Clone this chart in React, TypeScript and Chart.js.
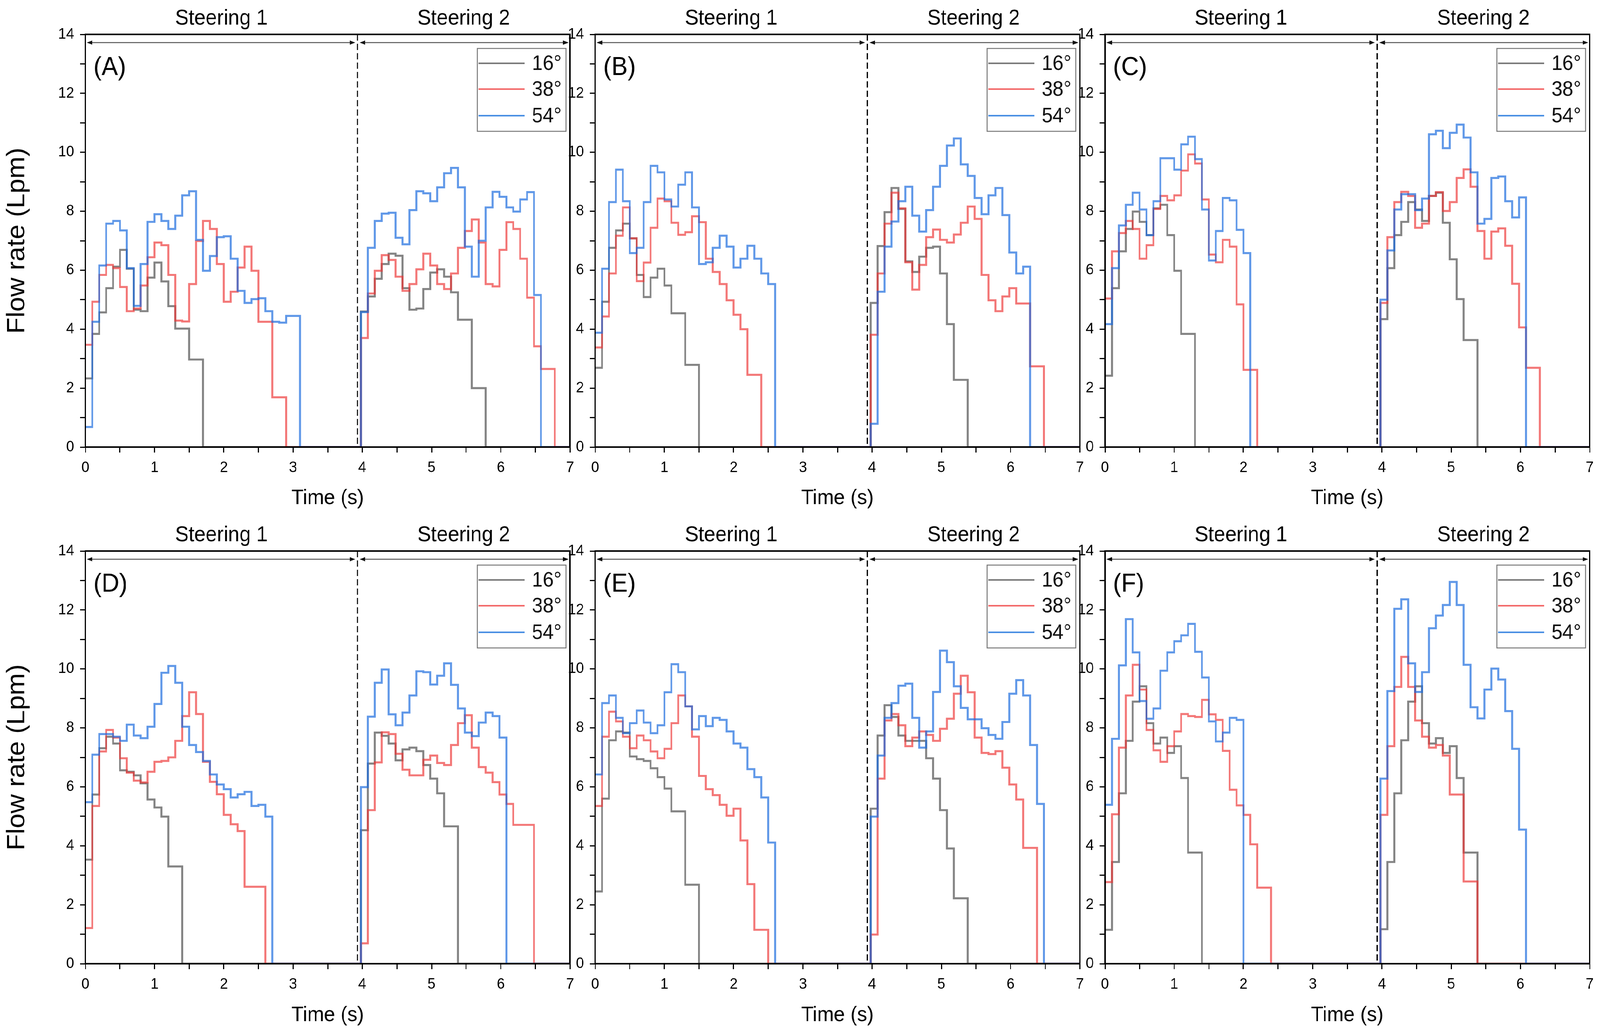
import React, { useEffect, useRef, useState } from 'react';
import { Chart, registerables } from 'chart.js';

Chart.register(...registerables);

// ---------- shared axis data ----------
const STEP = 0.1; // sampling interval of the flow signal (s)
const S1_START = 0; // steering 1 begins (s)
const S2_START = 3.98; // steering 2 begins (s)
const DIVIDER_T = 3.93; // dashed separator between steerings (s)
const X_MAX = 7;
const Y_MAX = 14;
const X_MAJOR = [0, 1, 2, 3, 4, 5, 6, 7];
const Y_MAJOR = [0, 2, 4, 6, 8, 10, 12, 14];
const SERIES_LABELS = ['16°', '38°', '54°'];
const PHASE_LABELS = ['Steering 1', 'Steering 2'];

// ---------- Panel A ----------
const A_16_S1 = [2.33, 3.84, 4.57, 5.39, 6.12, 6.69, 6.05, 4.66, 4.61, 5.75, 6.26, 5.62, 4.78, 4.02, 4.02, 2.97, 2.97];
const A_38_S1 = [3.47, 4.93, 5.84, 6.18, 6.07, 5.43, 4.61, 4.7, 5.48, 6.44, 6.94, 6.85, 5.84, 4.29, 4.26, 5.53, 6.99, 7.67, 7.4, 6.21, 4.93, 5.27, 6.09, 6.8, 5.98, 4.25, 4.25, 1.69, 1.69];
const A_54_S1 = [0.68, 4.25, 6.16, 7.58, 7.67, 7.35, 6.07, 4.79, 6.21, 7.64, 7.9, 7.67, 7.4, 7.85, 8.54, 8.68, 7.03, 5.98, 6.48, 7.12, 7.15, 6.39, 5.3, 4.89, 5.02, 5.05, 4.61, 4.25, 4.22, 4.45, 4.45];
const A_16_S2 = [4.6, 5.11, 5.71, 6.21, 6.56, 6.49, 5.39, 4.66, 4.7, 5.36, 5.92, 6.03, 5.78, 5.25, 4.32, 4.32, 2.0, 2.0];
const A_38_S2 = [3.7, 5.21, 5.98, 6.51, 6.35, 5.78, 5.3, 5.53, 6.03, 6.56, 6.16, 5.53, 5.36, 5.89, 6.76, 7.33, 7.72, 6.94, 5.53, 5.45, 6.69, 7.63, 7.4, 6.39, 5.07, 3.42, 2.65, 2.65];
const A_54_S2 = [4.58, 6.76, 7.67, 7.92, 7.95, 7.1, 6.88, 8.04, 8.68, 8.61, 8.34, 8.81, 9.29, 9.47, 8.81, 6.8, 5.78, 7.0, 8.13, 8.66, 8.49, 8.13, 7.99, 8.4, 8.65, 5.16];

// ---------- Panel B ----------
const B_16_S1 = [2.69, 4.93, 6.76, 7.35, 7.58, 7.08, 5.84, 5.09, 5.75, 6.05, 5.48, 4.54, 4.54, 2.79, 2.79];
const B_38_S1 = [3.38, 4.43, 5.89, 7.17, 8.13, 7.08, 5.63, 6.26, 7.44, 8.43, 8.34, 7.61, 7.2, 7.29, 7.83, 7.63, 6.39, 5.94, 5.53, 4.98, 4.49, 4.0, 2.45, 2.45];
const B_54_S1 = [3.88, 6.05, 8.31, 9.41, 8.34, 6.58, 6.76, 8.31, 9.54, 9.32, 8.4, 8.16, 8.9, 9.32, 8.13, 6.21, 6.27, 6.76, 7.17, 6.8, 6.09, 6.39, 6.83, 6.39, 5.89, 5.53];
const B_16_S2 = [4.89, 6.82, 7.97, 8.79, 8.08, 6.3, 5.94, 6.46, 6.76, 6.8, 5.89, 4.17, 2.28, 2.28];
const B_38_S2 = [3.81, 5.89, 7.58, 8.63, 8.1, 6.27, 5.34, 6.18, 7.12, 7.38, 7.03, 6.94, 7.21, 7.61, 8.16, 7.74, 5.84, 4.98, 4.61, 5.11, 5.39, 4.87, 4.87, 2.74, 2.74];
const B_54_S2 = [0.79, 5.27, 6.8, 7.65, 8.34, 8.83, 7.85, 7.31, 8.04, 8.83, 9.54, 10.23, 10.47, 9.59, 9.2, 8.45, 7.9, 8.54, 8.79, 7.87, 6.6, 5.89, 6.12];

// ---------- Panel C ----------
const C_16_S1 = [2.42, 5.39, 6.64, 7.4, 7.99, 7.64, 7.19, 8.1, 8.22, 7.19, 5.98, 3.84, 3.84];
const C_38_S1 = [5.04, 6.64, 7.26, 7.67, 7.4, 6.39, 6.85, 8.08, 8.52, 8.37, 8.54, 9.38, 9.93, 9.62, 8.4, 6.53, 6.27, 7.03, 6.8, 4.84, 2.62, 2.62];
const C_54_S1 = [4.17, 6.07, 7.52, 8.22, 8.63, 8.06, 7.19, 8.34, 9.8, 9.8, 9.41, 10.27, 10.53, 9.77, 8.06, 6.33, 7.33, 8.45, 8.37, 7.37, 6.58];
const C_16_S2 = [4.34, 6.07, 7.19, 7.64, 8.31, 8.06, 7.67, 8.52, 8.63, 7.61, 6.37, 5.02, 3.63, 3.63];
const C_38_S2 = [4.89, 7.12, 8.31, 8.66, 8.52, 7.44, 7.58, 8.52, 8.65, 8.01, 8.31, 9.13, 9.42, 8.83, 7.33, 6.39, 7.31, 7.42, 6.83, 5.54, 4.06, 2.69, 2.69];
const C_54_S2 = [5.0, 6.67, 8.06, 8.58, 8.58, 8.04, 8.43, 10.61, 10.73, 10.14, 10.66, 10.94, 10.5, 9.32, 7.58, 7.74, 9.13, 9.18, 8.34, 7.79, 8.47];

// ---------- Panel D ----------
const D_16_S1 = [3.53, 5.74, 7.31, 7.7, 7.47, 6.56, 6.51, 6.39, 6.12, 5.57, 5.3, 4.99, 3.3, 3.3];
const D_38_S1 = [1.21, 5.35, 7.2, 7.93, 7.67, 6.97, 6.48, 6.21, 6.15, 6.51, 6.85, 6.88, 7.0, 7.56, 8.4, 9.21, 8.47, 6.85, 6.17, 5.75, 5.05, 4.73, 4.5, 2.61, 2.61, 2.61];
const D_54_S1 = [5.48, 7.09, 7.79, 7.79, 7.7, 7.56, 8.11, 7.74, 7.65, 8.04, 8.81, 9.87, 10.1, 9.53, 8.04, 7.42, 7.18, 6.88, 6.42, 6.08, 5.92, 5.64, 5.75, 5.83, 5.35, 5.39, 4.99];
const D_16_S2 = [4.53, 6.79, 7.84, 7.73, 7.47, 6.9, 7.27, 7.33, 7.21, 6.74, 6.28, 5.78, 4.66, 4.66];
const D_38_S2 = [0.69, 5.21, 6.83, 7.85, 7.79, 7.12, 6.58, 6.39, 6.39, 6.92, 7.06, 6.81, 6.74, 7.42, 8.16, 8.43, 7.33, 6.67, 6.48, 6.16, 5.74, 5.42, 4.71, 4.71, 4.71];
const D_54_S2 = [5.99, 8.38, 9.53, 9.98, 8.46, 8.09, 8.52, 9.1, 9.92, 9.89, 9.47, 9.77, 10.19, 9.46, 8.66, 7.84, 7.72, 8.18, 8.52, 8.4, 7.67];

// ---------- Panel E ----------
const E_16_S1 = [2.45, 5.6, 7.58, 7.88, 7.84, 7.03, 6.94, 6.88, 6.63, 6.33, 5.94, 5.17, 5.17, 2.68, 2.68];
const E_38_S1 = [5.35, 7.7, 8.55, 8.22, 7.7, 7.31, 7.74, 7.58, 7.2, 6.97, 7.29, 8.16, 9.1, 8.73, 7.7, 6.37, 5.92, 5.72, 5.39, 5.02, 5.26, 4.18, 2.7, 1.15, 1.15];
const E_54_S1 = [6.42, 8.84, 9.1, 8.34, 7.82, 8.16, 8.59, 8.18, 7.82, 8.09, 9.21, 10.16, 9.89, 8.73, 7.95, 8.4, 8.06, 8.34, 8.27, 7.88, 7.47, 7.33, 6.6, 6.33, 5.64, 4.11];
const E_16_S2 = [5.26, 7.74, 8.77, 8.37, 7.74, 7.56, 7.56, 7.56, 6.97, 6.28, 5.21, 3.91, 2.22, 2.22];
const E_38_S2 = [0.99, 6.28, 8.25, 8.47, 8.09, 7.38, 7.67, 7.88, 7.76, 7.56, 7.97, 8.31, 9.16, 9.77, 9.21, 7.67, 7.15, 7.11, 7.21, 6.65, 6.08, 5.57, 3.93, 3.93];
const E_54_S2 = [4.99, 7.06, 8.34, 8.84, 9.43, 9.5, 8.34, 7.33, 7.88, 9.22, 10.62, 10.23, 9.41, 8.68, 8.29, 8.29, 7.99, 7.76, 7.63, 8.2, 9.16, 9.62, 9.1, 7.42, 5.42];

// ---------- Panel F ----------
const F_16_S1 = [1.15, 3.45, 5.78, 7.56, 8.89, 9.41, 8.16, 7.47, 7.67, 7.15, 7.38, 6.3, 3.77, 3.77];
const F_38_S1 = [2.77, 5.07, 7.33, 9.1, 10.14, 9.3, 7.93, 7.24, 6.85, 7.38, 7.88, 8.47, 8.4, 8.37, 8.95, 8.46, 8.27, 7.22, 5.9, 5.37, 5.05, 4.05, 2.58, 2.58];
const F_54_S1 = [5.39, 7.63, 10.12, 11.69, 10.56, 8.91, 8.31, 8.66, 9.94, 10.56, 10.94, 11.14, 11.53, 10.58, 9.71, 8.22, 7.54, 7.84, 8.34, 8.27];
const F_16_S2 = [1.17, 3.45, 5.78, 7.58, 8.89, 9.41, 8.16, 7.47, 7.65, 7.15, 7.38, 6.3, 3.77, 3.77];
const F_38_S2 = [5.05, 7.38, 9.39, 10.41, 9.39, 8.25, 7.7, 7.33, 7.42, 7.06, 5.74, 5.74, 2.79, 2.79];
const F_54_S2 = [6.28, 9.25, 12.04, 12.36, 10.19, 9.22, 9.89, 11.38, 11.81, 12.17, 12.95, 12.17, 10.14, 8.7, 8.32, 9.3, 10.01, 9.64, 8.57, 7.29, 4.55];

// ---------- styling ----------
const FONT = '"Liberation Sans", Arial, Helvetica, sans-serif';
const LINE_COLORS = ['rgba(85,85,85,0.72)', 'rgba(238,55,55,0.68)', 'rgba(28,108,222,0.7)'];
const LEGEND_COLORS = ['#7a7a7a', '#f36a6a', '#4a8fe3'];
const PAGE_W = 4331;
const PAGE_H = 2651;

type Pt = { x: number; y: number };

function buildPoints(s1: number[], s2: number[]): Pt[] {
  const pts: Pt[] = [];
  s1.forEach((v, i) => pts.push({ x: +(S1_START + i * STEP).toFixed(3), y: v }));
  pts.push({ x: +(S1_START + s1.length * STEP).toFixed(3), y: 0 });
  s2.forEach((v, i) => pts.push({ x: +(S2_START + i * STEP).toFixed(3), y: v }));
  pts.push({ x: +(S2_START + s2.length * STEP).toFixed(3), y: 0 });
  pts.push({ x: X_MAX, y: 0 });
  return pts;
}

type PanelDef = {
  letter: string;
  col: number;
  row: number;
  series: [number[], number[]][];
};

const PANELS: PanelDef[] = [
  { letter: 'A', col: 0, row: 0, series: [[A_16_S1, A_16_S2], [A_38_S1, A_38_S2], [A_54_S1, A_54_S2]] },
  { letter: 'B', col: 1, row: 0, series: [[B_16_S1, B_16_S2], [B_38_S1, B_38_S2], [B_54_S1, B_54_S2]] },
  { letter: 'C', col: 2, row: 0, series: [[C_16_S1, C_16_S2], [C_38_S1, C_38_S2], [C_54_S1, C_54_S2]] },
  { letter: 'D', col: 0, row: 1, series: [[D_16_S1, D_16_S2], [D_38_S1, D_38_S2], [D_54_S1, D_54_S2]] },
  { letter: 'E', col: 1, row: 1, series: [[E_16_S1, E_16_S2], [E_38_S1, E_38_S2], [E_54_S1, E_54_S2]] },
  { letter: 'F', col: 2, row: 1, series: [[F_16_S1, F_16_S2], [F_38_S1, F_38_S2], [F_54_S1, F_54_S2]] },
];

const COLS = [
  { left: 0, width: 1600, yWidth: 231, padRight: 57 },
  { left: 1540, width: 1440, yWidth: 71, padRight: 57 },
  { left: 2920, width: 1411, yWidth: 71, padRight: 28 },
];
const ROWS = [
  { top: 0, height: 1320, padTop: 88, xHeight: 176, xTitlePad: 12 },
  { top: 1320, height: 1331, padTop: 90, xHeight: 185, xTitlePad: 20 },
];

function drawHead(ctx: CanvasRenderingContext2D, x: number, y: number, dir: number) {
  ctx.beginPath();
  ctx.moveTo(x, y);
  ctx.lineTo(x + dir * 15, y - 5.5);
  ctx.lineTo(x + dir * 15, y + 5.5);
  ctx.closePath();
  ctx.fill();
}

function drawDoubleArrow(ctx: CanvasRenderingContext2D, x1: number, x2: number, y: number) {
  ctx.strokeStyle = '#555';
  ctx.fillStyle = '#111';
  ctx.lineWidth = 2.4;
  ctx.beginPath();
  ctx.moveTo(x1 + 8, y);
  ctx.lineTo(x2 - 8, y);
  ctx.stroke();
  drawHead(ctx, x1, y, 1);
  drawHead(ctx, x2, y, -1);
}

function makeDecor(letter: string) {
  return {
    id: 'decor' + letter,
    afterDraw(chart: any) {
      const { ctx, chartArea: ca } = chart;
      const xs = chart.scales.x;
      ctx.save();
      // frame
      ctx.strokeStyle = '#000';
      ctx.lineWidth = 4;
      ctx.strokeRect(ca.left, ca.top, ca.right - ca.left, ca.bottom - ca.top);
      // dashed separator
      const xd = xs.getPixelForValue(DIVIDER_T);
      ctx.setLineDash([16, 8]);
      ctx.lineWidth = 3.6;
      ctx.strokeStyle = '#000';
      ctx.beginPath();
      ctx.moveTo(xd, ca.top);
      ctx.lineTo(xd, ca.bottom);
      ctx.stroke();
      ctx.setLineDash([]);
      // arrows
      const ay = ca.top + 21;
      drawDoubleArrow(ctx, xs.getPixelForValue(0) + 4, xd - 6, ay);
      drawDoubleArrow(ctx, xd + 6, xs.getPixelForValue(X_MAX) - 4, ay);
      // steering labels
      ctx.fillStyle = '#000';
      ctx.font = `55px ${FONT}`;
      ctx.textAlign = 'center';
      ctx.textBaseline = 'middle';
      ctx.fillText(PHASE_LABELS[0], xs.getPixelForValue((0 + DIVIDER_T) / 2), ca.top - 40);
      ctx.fillText(PHASE_LABELS[1], xs.getPixelForValue((DIVIDER_T + X_MAX) / 2), ca.top - 40);
      // panel letter
      ctx.font = `66px ${FONT}`;
      ctx.textAlign = 'left';
      ctx.fillText(`(${letter})`, ca.left + 22, ca.top + 86);
      // legend
      const lw = 240;
      const lh = 212;
      const lx = ca.right - 11 - lw;
      const ly = ca.top + 36;
      ctx.fillStyle = '#fff';
      ctx.fillRect(lx, ly, lw, lh);
      ctx.strokeStyle = '#777';
      ctx.lineWidth = 2.5;
      ctx.strokeRect(lx, ly, lw, lh);
      const rows = [38, 104, 172];
      ctx.font = `53px ${FONT}`;
      ctx.textAlign = 'right';
      SERIES_LABELS.forEach((lab, i) => {
        const yy = ly + rows[i];
        ctx.strokeStyle = LEGEND_COLORS[i];
        ctx.lineWidth = 3.8;
        ctx.beginPath();
        ctx.moveTo(lx + 3, yy);
        ctx.lineTo(lx + 128, yy);
        ctx.stroke();
        ctx.fillStyle = '#111';
        ctx.fillText(lab, lx + lw - 12, yy + 2);
      });
      ctx.restore();
    },
  };
}

function Panel({ def }: { def: PanelDef }) {
  const ref = useRef<HTMLCanvasElement>(null);
  const col = COLS[def.col];
  const row = ROWS[def.row];
  useEffect(() => {
    const datasets = def.series.map((pair, i) => ({
      label: SERIES_LABELS[i],
      data: buildPoints(pair[0], pair[1]),
      stepped: true as const,
      borderColor: LINE_COLORS[i],
      backgroundColor: LINE_COLORS[i],
      borderWidth: 5.2,
      pointRadius: 0,
      fill: false,
      order: 3 - i,
    }));
    const tickFont = { family: FONT, size: 39 };
    const chart = new Chart(ref.current as HTMLCanvasElement, {
      type: 'line',
      data: { datasets },
      options: {
        responsive: false,
        animation: false,
        devicePixelRatio: 1,
        events: [],
        layout: { padding: { top: row.padTop, right: col.padRight, left: 0, bottom: 0 } },
        plugins: { legend: { display: false }, tooltip: { enabled: false } },
        scales: {
          x: {
            type: 'linear',
            min: 0,
            max: X_MAX,
            ticks: {
              stepSize: 0.5,
              autoSkip: false,
              maxRotation: 0,
              color: '#000',
              font: tickFont,
              padding: 16,
              callback: (v: any) => (X_MAJOR.includes(Number(v)) ? String(v) : ''),
            },
            grid: { drawOnChartArea: false, drawTicks: true, tickLength: 14, color: '#000', lineWidth: 3 },
            border: { display: false },
            title: {
              display: true,
              text: 'Time (s)',
              color: '#000',
              font: { family: FONT, size: 54 },
              padding: { top: 0, bottom: row.xTitlePad },
            },
            afterFit: (s: any) => {
              s.height = row.xHeight;
            },
          } as any,
          y: {
            type: 'linear',
            min: 0,
            max: Y_MAX,
            ticks: {
              stepSize: 1,
              autoSkip: false,
              color: '#000',
              font: tickFont,
              padding: 16,
              callback: (v: any) => (Y_MAJOR.includes(Number(v)) ? String(v) : ''),
            },
            grid: { drawOnChartArea: false, drawTicks: true, tickLength: 14, color: '#000', lineWidth: 3 },
            border: { display: false },
            title: {
              display: def.col === 0,
              text: 'Flow rate (Lpm)',
              color: '#000',
              font: { family: FONT, size: 68 },
              padding: { top: 6, bottom: 0 },
            },
            afterFit: (s: any) => {
              s.width = col.yWidth;
            },
          } as any,
        },
      },
      plugins: [makeDecor(def.letter)],
    });
    return () => chart.destroy();
  }, []);
  return (
    <canvas
      ref={ref}
      width={col.width}
      height={row.height}
      style={{ position: 'absolute', left: col.left, top: row.top, width: col.width, height: row.height }}
    />
  );
}

function viewport() {
  const w = window.innerWidth || document.documentElement.clientWidth || PAGE_W;
  const h = window.innerHeight || document.documentElement.clientHeight || PAGE_H;
  return { w, h };
}

export default function App() {
  const [vp, setVp] = useState(viewport());
  useEffect(() => {
    const onResize = () => setVp(viewport());
    window.addEventListener('resize', onResize);
    return () => window.removeEventListener('resize', onResize);
  }, []);
  const sx = vp.w / PAGE_W;
  const sy = vp.h / PAGE_H;
  return (
    <div style={{ position: 'fixed', left: 0, top: 0, width: vp.w, height: vp.h, overflow: 'hidden', background: '#fff' }}>
      <div
        style={{
          position: 'absolute',
          left: 0,
          top: 0,
          width: PAGE_W,
          height: PAGE_H,
          background: '#fff',
          transform: `scale(${sx}, ${sy})`,
          transformOrigin: '0 0',
        }}
      >
        {PANELS.map((p) => (
          <Panel key={p.letter} def={p} />
        ))}
      </div>
    </div>
  );
}
